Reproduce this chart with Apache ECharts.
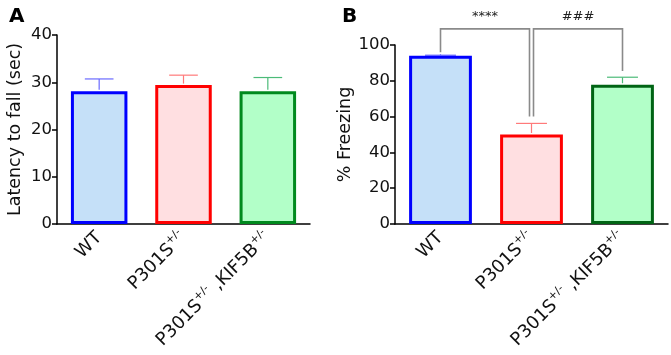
<!DOCTYPE html>
<html>
<head>
<meta charset="utf-8">
<script src="https://cdn.jsdelivr.net/npm/echarts@6/dist/echarts.min.js"></script>
<style>
  html, body { margin: 0; padding: 0; background: #fff; }
  #main { width: 671px; height: 355px; }
</style>
</head>
<body>
<div id="main"></div>
<script>
// groups on the x axis (same in both panels)
var categories = ['WT', 'P301S{s|+/-}', 'P301S{s|+/-} ,KIF5B{s|+/-}'];

// panel A: rotarod latency to fall (sec)
var latencyMean = [28.1, 29.4, 28.1];
var latencyErr = [30.7, 31.5, 31.0];

// panel B: % freezing
var freezingMean = [94.0, 50.0, 77.8];
var freezingErr = [94.3, 56.2, 82.0];

// significance brackets in panel B: [from, to, top, left end, right end, text]
var brackets = [
  [0, 1, 109, 96, 60, '****'],
  [1, 2, 109, 60, 85.5, '###']
];

var fills = ['#c5e0f8', '#ffdfe1', '#b2ffc8'];
var borders = ['#0000ff', '#ff0000', '#008a1e'];
var bordersB = ['#0000ff', '#ff0000', '#006414'];
var errColors = ['#6a6aff', '#ff7a7a', '#4cbb78'];

var font = 'DejaVu Sans';

function barData(vals, brd) {
  return vals.map(function (v, i) {
    return {
      value: v,
      itemStyle: { color: fills[i], borderColor: brd[i], borderWidth: 3 }
    };
  });
}

function errData(mean, err) {
  return mean.map(function (m, i) { return [i, m, err[i]]; });
}

function renderErr(params, api) {
  var i = api.value(0);
  var p0 = api.coord([i, api.value(1)]);
  var p1 = api.coord([i, api.value(2)]);
  var half = api.size([1, 0])[0] * 0.17;
  var st = { stroke: errColors[i], lineWidth: 1.2 };
  return {
    type: 'group',
    children: [
      { type: 'line', shape: { x1: p0[0], y1: p0[1] - 1.5, x2: p1[0], y2: p1[1] }, style: st },
      { type: 'line', shape: { x1: p1[0] - half, y1: p1[1], x2: p1[0] + half, y2: p1[1] }, style: st }
    ]
  };
}

function renderBracket(params, api) {
  var b = brackets[params.dataIndex];
  var gap = 2;
  var l = api.coord([b[0], b[3]]);
  var r = api.coord([b[1], b[4]]);
  var top = api.coord([b[0], b[2]])[1];
  var xl = l[0] + (b[0] === 1 ? gap : 0);
  var xr = r[0] - (b[1] === 1 ? gap : 0);
  var st = { stroke: '#8a8a8a', lineWidth: 1.6, fill: null };
  return {
    type: 'group',
    children: [
      { type: 'polyline', shape: { points: [[xl, l[1]], [xl, top], [xr, top], [xr, r[1]]] }, style: st },
      {
        type: 'text',
        style: {
          text: b[5], x: (xl + xr) / 2, y: top - 6,
          align: 'center', verticalAlign: 'bottom',
          fontSize: 13, fontFamily: font, fill: '#222'
        }
      }
    ]
  };
}

var xLabel = {
  rotate: 45,
  fontSize: 18,
  fontFamily: font,
  color: '#111',
  margin: 11,
  rich: {
    s: { fontSize: 11, verticalAlign: 'top', padding: [0, 0, 12, 0], fontFamily: font, color: '#111' }
  }
};

function xAxis(gi) {
  return {
    type: 'category', gridIndex: gi, data: categories,
    axisLine: { lineStyle: { color: '#000', width: 1.5 } },
    axisTick: { alignWithLabel: true, length: 5, lineStyle: { color: '#000', width: 1.5 } },
    axisLabel: xLabel
  };
}

function yAxis(gi, max, step, name, gap) {
  return {
    type: 'value', gridIndex: gi, min: 0, max: max, interval: step,
    name: name, nameLocation: 'middle', nameGap: gap,
    nameTextStyle: { fontSize: 17.5, fontFamily: font, color: '#111' },
    axisLine: { show: true, lineStyle: { color: '#000', width: 1.5 } },
    axisTick: { show: true, length: 5, lineStyle: { color: '#000', width: 1.5 } },
    axisLabel: { fontSize: 16.5, fontFamily: font, color: '#111', margin: 5 },
    splitLine: { show: false }
  };
}

var chart = echarts.init(document.getElementById('main'), null, { renderer: 'canvas' });
chart.setOption({
  backgroundColor: '#fff',
  animation: false,
  title: [
    { text: 'A', left: 4, top: 2, textStyle: { fontSize: 20, fontWeight: 'bold', fontFamily: font, color: '#000' } },
    { text: 'B', left: 337, top: 2, textStyle: { fontSize: 20, fontWeight: 'bold', fontFamily: font, color: '#000' } }
  ],
  grid: [
    { left: 57, right: 361, top: 35, bottom: 131 },
    { left: 395, right: 3, top: 45, bottom: 131 }
  ],
  xAxis: [xAxis(0), xAxis(1)],
  yAxis: [
    yAxis(0, 40, 10, 'Latency to fall (sec)', 33),
    yAxis(1, 100, 20, '% Freezing', 39)
  ],
  series: [
    { type: 'bar', xAxisIndex: 0, yAxisIndex: 0, barWidth: '67%', data: barData(latencyMean, borders) },
    { type: 'custom', xAxisIndex: 0, yAxisIndex: 0, renderItem: renderErr, data: errData(latencyMean, latencyErr), z: 1 },
    { type: 'bar', xAxisIndex: 1, yAxisIndex: 1, barWidth: '69%', data: barData(freezingMean, bordersB) },
    { type: 'custom', xAxisIndex: 1, yAxisIndex: 1, renderItem: renderErr, data: errData(freezingMean, freezingErr), z: 1 },
    { type: 'custom', xAxisIndex: 1, yAxisIndex: 1, renderItem: renderBracket, clip: false, data: brackets.map(function (b, i) { return [i]; }) }
  ]
});
</script>
</body>
</html>
